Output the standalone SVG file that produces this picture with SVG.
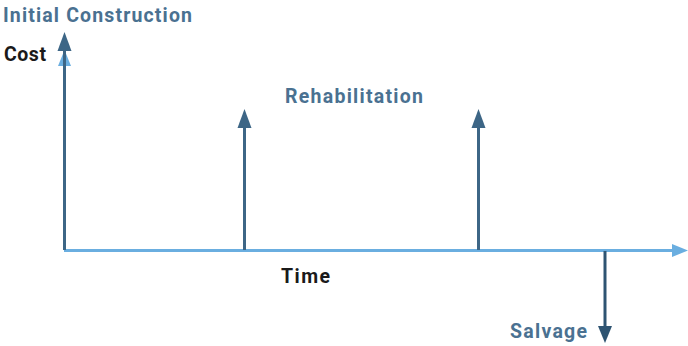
<svg xmlns="http://www.w3.org/2000/svg" width="688" height="346" viewBox="0 0 688 346">
<style>
.lbl{font-family:"Roboto","Liberation Sans",sans-serif;font-weight:bold;font-size:19.5px}
.blue{fill:#4a7191}
.blk{fill:#1a1a1a}
.dk{stroke:#3d6686;stroke-width:3;fill:none}
.lt{stroke:#6aaee0;stroke-width:3;fill:none}
</style>
<rect width="688" height="346" fill="#ffffff"/>
<g id="connectors">
<line class="lt" x1="64" y1="250.5" x2="674" y2="250.5"/>
<polygon points="688,250.5 672,244 672,257" fill="#6aaee0"/>
<line class="lt" x1="64.5" y1="250" x2="64.5" y2="60"/>
<polygon points="64.5,50 58,66 71,66" fill="#6aaee0"/>
<line class="dk" x1="64.5" y1="250" x2="64.5" y2="46"/>
<polygon points="64.5,32 57.5,51 71.5,51" fill="#3d6686"/>
<line class="dk" x1="244.5" y1="250" x2="244.5" y2="124"/>
<polygon points="244.5,109 237.5,128 251.5,128" fill="#3d6686"/>
<line class="dk" x1="478.5" y1="250" x2="478.5" y2="124"/>
<polygon points="478.5,109 471.5,128 485.5,128" fill="#3d6686"/>
<line class="dk" x1="605" y1="251" x2="605" y2="330" style="stroke:#2e5472"/>
<polygon points="605,343 598,326 612,326" fill="#2e5472"/>
</g>
<g id="initial-construction"><text class="lbl blue" x="3" y="22" textLength="189" lengthAdjust="spacing">Initial Construction</text></g>
<g id="cost"><text class="lbl blk" x="4" y="61" textLength="42" lengthAdjust="spacing">Cost</text></g>
<g id="rehabilitation"><text class="lbl blue" x="285" y="103" textLength="138" lengthAdjust="spacing">Rehabilitation</text></g>
<g id="time"><text class="lbl blk" x="281" y="283" textLength="49" lengthAdjust="spacing">Time</text></g>
<g id="salvage"><text class="lbl blue" x="510" y="338" textLength="77" lengthAdjust="spacing">Salvage</text></g>
</svg>
